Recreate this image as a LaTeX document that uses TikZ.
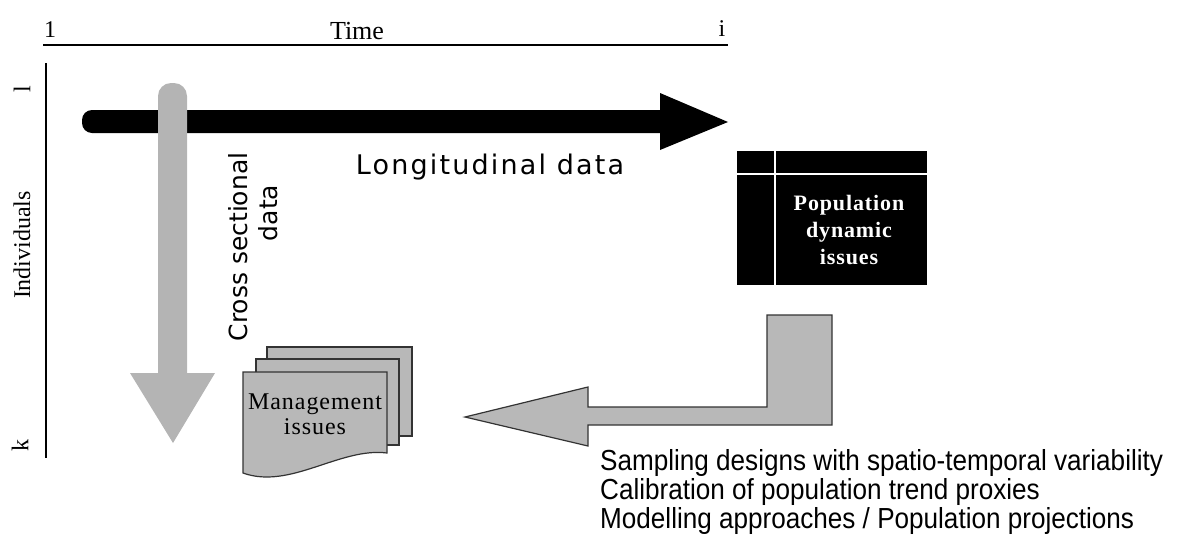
\documentclass[tikz,border=0pt]{standalone}
\usepackage{fontspec}
\setmainfont{Liberation Serif}
\newfontfamily\dejafont{DejaVu Sans}
\newfontfamily\spacedfont[LetterSpace=8]{DejaVu Sans}
\newfontfamily\narrowfont[FakeStretch=0.9]{Liberation Sans}
\newfontfamily\spacedserif[LetterSpace=4]{Liberation Serif}
\usepackage{tikz}
\usetikzlibrary{calc}

\definecolor{lightgrey}{RGB}{180,180,180}
\definecolor{sheetgrey}{RGB}{184,184,184}

\tikzset{
	sheet/.style={draw=black!80, line width=1.2pt, fill=sheetgrey},
	axislabel/.style={font=\fontsize{24}{27}\selectfont},
	popline/.style={white, line width=1.6pt},
}

\begin{document}
\begin{tikzpicture}[x=1pt, y=-1pt]
				\useasboundingbox (0,0) rectangle (1178,541);
				\coordinate (T1) at (43,45);
				\coordinate (Ti) at (728,45);
				\coordinate (I1) at (46,63);
				\coordinate (Ik) at (46,458);
				
				\draw[line width=1.3pt] (T1) -- (Ti);
				\draw[line width=1.3pt] (I1) -- (Ik);
				\node[axislabel] (one) at (50,30) {1};
				\node[axislabel, font=\fontsize{26}{28}\selectfont] (time) at (357,31) {Time};
				\node[axislabel] (last) at (722,29) {i};
				\node[axislabel, rotate=90] (first) at (22,89) {l};
				\node[axislabel, rotate=90] (indiv) at (22,245) {Individuals};
				\node[axislabel, rotate=90] (kth) at (20,445) {k};
				
				\fill (728,122) -- (660,93) -- (660,110) [rounded corners=10pt] -- (82,110) -- (82,133) [sharp corners] -- (660,133) -- (660,150) -- cycle;
				\fill[lightgrey, rounded corners=13pt] (158,373) -- (158,83) -- (187,83) [sharp corners] -- (187,373) -- (215,373) -- (173,443) -- (130,373) -- cycle;
				
				\node[font=\spacedfont\fontsize{27}{30}\selectfont] (long) at (490,167) {Longitudinal data};
				\node[font=\dejafont\fontsize{25}{28}\selectfont, rotate=90] (cross) at (238,247) {Cross sectional};
				\node[font=\dejafont\fontsize{25}{28}\selectfont, rotate=90] (crossdata) at (268,213) {data};
				
				\fill (737,151) rectangle (927,285);
				\draw[popline] (775,151) -- (775,285);
				\draw[popline] (737,174) -- (927,174);
				\node[white, align=center, font=\spacedserif\bfseries\fontsize{22}{27}\selectfont] (pop) at (849,230) {Population\\dynamic\\issues};
				
				\draw[sheet] (267,347) rectangle (412,436);
				\draw[sheet] (256,359) rectangle (399,445);
				\draw[sheet] (243,372) -- (387,372) -- (387,453) .. controls (340,447) and (290,490) .. (243,473) -- cycle;
				\node[align=center, font=\spacedserif\fontsize{24}{25}\selectfont] (mgmt) at (315,414) {Management\\issues};
				
				\draw[sheet] (832,315) -- (767,315) -- (767,407) -- (588,407) -- (588,387) -- (465,417) -- (588,446) -- (588,425) -- (832,425) -- cycle;
				
				\node[anchor=west, align=left, inner sep=0pt, font=\narrowfont\fontsize{29}{29}\selectfont] (notes) at (600,492) {Sampling designs with spatio-temporal variability\\Calibration of population trend proxies\\Modelling approaches / Population projections};
			\end{tikzpicture}
\end{document}
